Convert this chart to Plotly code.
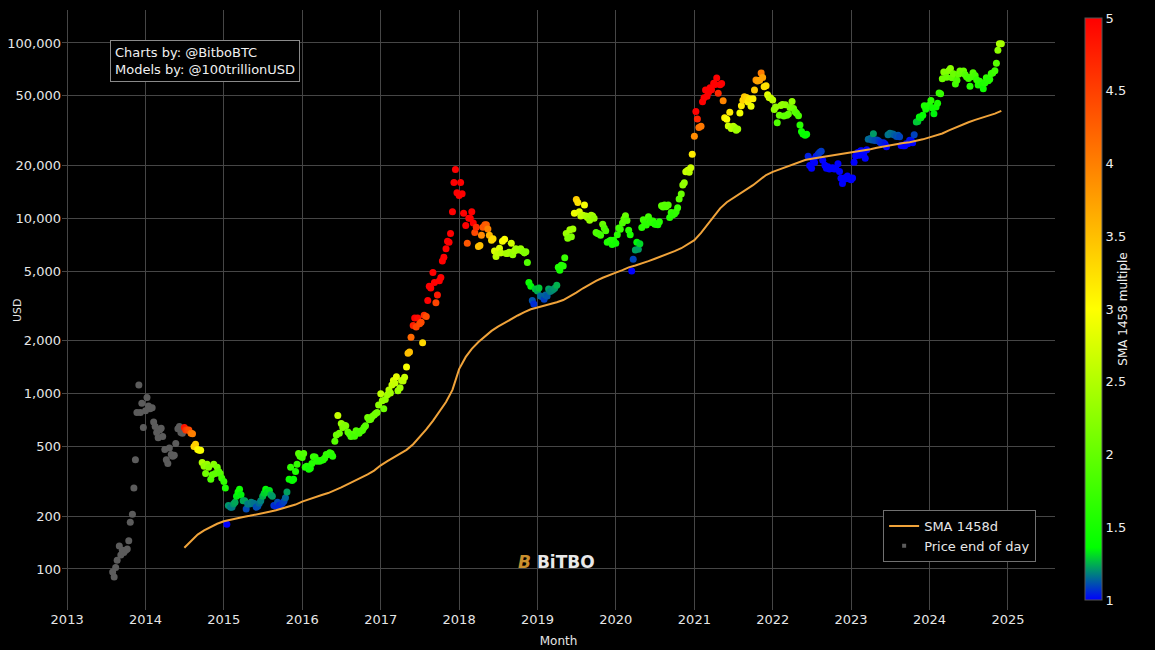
import numpy as np
import pandas as pd
import plotly.graph_objects as go

# ---------------- DATA ----------------
# Price end of day (USD), sampled on the 1st, 8th, 15th and 22nd of each month
p2013 = [96, 90, 102, 112, 135, 120, 128, 124, 128, 130, 145, 185,
         205, 290, 420, 780, 1120, 780, 880, 640]  # Aug-Dec
p2014 = [800, 950, 850, 820, 830, 690, 650, 600, 560, 620, 635, 570,
         480, 420, 400, 490, 450, 440, 445, 520, 630, 650, 600, 595,
         640, 620, 620, 620, 595, 590, 500, 515, 480, 475, 475, 405,
         385, 350, 395, 380, 325, 345, 395, 350, 380, 360, 350, 330]
p2015 = [315, 290, 180, 230, 225, 225, 235, 240, 260, 275, 285, 265,
         245, 245, 220, 235, 235, 240, 238, 236, 225, 228, 237, 245,
         260, 270, 285, 275, 280, 265, 260, 230, 228, 240, 230, 232,
         238, 243, 255, 275, 325, 380, 320, 325, 360, 395, 455, 440]
p2016 = [432, 455, 380, 385, 370, 375, 400, 437, 435, 412, 415, 412,
         417, 420, 430, 450, 450, 460, 455, 440, 535, 580, 750, 595,
         675, 640, 660, 655, 605, 590, 570, 585, 572, 615, 607, 595,
         613, 618, 640, 655, 730, 710, 715, 740, 755, 770, 780, 860]
p2017 = [1000, 910, 820, 925, 985, 1050, 1010, 1120, 1190, 1150, 1250, 1040,
         1080, 1190, 1180, 1240, 1420, 1700, 1730, 2100, 2450, 2700, 2400, 2700,
         2500, 2550, 1950, 2800, 2750, 3400, 4100, 4000, 4900, 4300, 3300, 3650,
         4400, 4600, 5700, 6000, 6700, 7400, 7300, 8200, 10900, 16000, 19000, 14000]
p2018 = [13500, 16000, 13800, 10700, 9100, 7200, 10000, 10000, 10900, 9400, 8300, 8900,
         6900, 7000, 8000, 8900, 9200, 9200, 8700, 8000, 7500, 7650, 6500, 6050,
         6350, 6750, 6350, 7400, 7600, 6300, 6300, 6400, 7200, 6200, 6500, 6700,
         6600, 6650, 6700, 6500, 6350, 6450, 5600, 4300, 4100, 3400, 3250, 3950]
p2019 = [3850, 4000, 3600, 3580, 3450, 3650, 3600, 3950, 3830, 3880, 3930, 3990,
         4150, 5250, 5050, 5400, 5350, 5950, 8200, 7700, 8600, 7850, 8700, 10700,
         12800, 12300, 10900, 10300, 10400, 11900, 10300, 10100, 9750, 10400, 10300, 10000,
         8300, 8200, 8150, 8000, 9250, 8800, 8500, 7300, 7400, 7500, 7100, 7500]
p2020 = [7200, 8050, 8800, 8650, 9400, 9900, 10350, 9700, 8550, 8050, 5000, 5850,
         6600, 7300, 6650, 7150, 8850, 9800, 9350, 9150, 10200, 9750, 9450, 9650,
         9250, 9250, 9200, 9550, 11800, 11600, 11900, 11650, 11900, 10100, 10800, 10450,
         10600, 10900, 11500, 12900, 13750, 15500, 15950, 18400, 18800, 18300, 19400, 23200]
p2021 = [29400, 40600, 36800, 33000, 33500, 46200, 48700, 54000, 49600, 52400, 55600, 54100,
         59000, 58000, 63200, 51700, 57800, 58800, 46800, 37500, 36700, 33600, 40200, 32500,
         33500, 32900, 31800, 32300, 39900, 43800, 47100, 49300, 48800, 46100, 48100, 43600,
         48100, 53900, 61500, 60700, 61300, 67500, 63600, 56300, 57000, 50600, 48900, 48600]
p2022 = [47300, 41800, 43100, 35100, 38700, 44000, 44500, 38300, 44400, 38700, 39300, 42900,
         46300, 42300, 40500, 39700, 38500, 34100, 31300, 30300, 29800, 30200, 22600, 20000,
         19300, 21600, 20800, 22600, 23300, 23800, 24100, 21400, 20100, 19300, 19700, 19100,
         19300, 19400, 19100, 19200, 20500, 18500, 16900, 15800, 17000, 16800, 17400, 16800]
p2023 = [16600, 17000, 20900, 22700, 23700, 22900, 24300, 24200, 23600, 22000, 24600, 28200,
         28500, 28000, 30400, 27800, 28000, 27700, 27200, 26800, 27000, 26500, 25600, 30000,
         30600, 30300, 30300, 29900, 29300, 29800, 29200, 26000, 25900, 25900, 26600, 26600,
         27900, 27900, 27000, 30000, 35400, 35600, 37800, 37400, 38700, 43800, 41900, 43700]
p2024 = [44200, 47000, 42500, 39500, 43100, 45300, 51900, 51300, 62400, 68300, 67900, 63800,
         69700, 71600, 63400, 66800, 58300, 61200, 66200, 69200, 67500, 69300, 66100, 64200,
         62700, 56700, 64100, 67600, 65300, 61700, 57500, 60400, 57300, 54800, 59200, 63300,
         60800, 62100, 67000, 67400, 69500, 76600, 91000, 98900, 99000]

# SMA 1458d, monthly (1st of month) from 2014-07
sma2014 = [132, 145, 157, 166, 174, 181]
sma2015 = [187, 191, 195, 198, 201, 204, 208, 212, 216, 221, 226, 233]
sma2016 = [242, 250, 257, 264, 271, 280, 292, 305, 318, 332, 346, 364]
sma2017 = [390, 412, 432, 452, 478, 515, 565, 625, 700, 785, 895, 1050]
sma2018 = [1380, 1620, 1800, 1970, 2120, 2280, 2410, 2540, 2670, 2790, 2920, 3030]
sma2019 = [3100, 3170, 3240, 3320, 3420, 3580, 3770, 3990, 4200, 4400, 4580, 4750]
sma2020 = [4900, 5060, 5250, 5380, 5520, 5700, 5880, 6070, 6300, 6500, 6750, 7080]
sma2021 = [7500, 8250, 9100, 10250, 11400, 12350, 13050, 13700, 14600, 15450, 16550, 17650]
sma2022 = [18400, 19000, 19600, 20300, 21000, 21500, 21850, 22150, 22500, 22750, 23050, 23300]
sma2023 = [23600, 23950, 24300, 24750, 25250, 25700, 26050, 26450, 26850, 27150, 27600, 28200]
sma2024 = [28950, 29650, 30450, 31750, 32950, 34100, 35300, 36400, 37400, 38450, 39550, 41000]

y_tickvals = [100, 200, 500, 1000, 2000, 5000, 10000, 20000, 50000, 100000]
y_ticktext = ["100", "200", "500", "1,000", "2,000", "5,000", "10,000", "20,000", "50,000", "100,000"]
cb_tickvals = [1, 1.5, 2, 2.5, 3, 3.5, 4, 4.5, 5]
cb_ticktext = ["1", "1.5", "2", "2.5", "3", "3.5", "4", "4.5", "5"]

# ---------------- BUILD ----------------
price = p2013 + p2014 + p2015 + p2016 + p2017 + p2018 + p2019 + p2020 + p2021 + p2022 + p2023 + p2024
dates = []
yy, mm = 2013, 8
while len(dates) < len(price):
    for d in (1, 8, 15, 22):
        dates.append(pd.Timestamp(yy, mm, d))
    mm += 1
    if mm > 12:
        mm, yy = 1, yy + 1
dates = pd.DatetimeIndex(dates[:len(price)])
price = np.array(price, dtype=float)

sma = np.array(sma2014 + sma2015 + sma2016 + sma2017 + sma2018 + sma2019 +
               sma2020 + sma2021 + sma2022 + sma2023 + sma2024, dtype=float)
sma_dates = pd.date_range("2014-07-01", periods=len(sma), freq="MS")

t_p = dates.asi8.astype(float)
t_s = sma_dates.asi8.astype(float)
has_sma = t_p >= t_s[0]
multiple = price[has_sma] / np.exp(np.interp(t_p[has_sma], t_s, np.log(sma)))

colorscale = [[0.0, "rgb(0,0,255)"], [0.09, "rgb(0,255,0)"],
              [0.5, "rgb(255,255,0)"], [1.0, "rgb(255,0,0)"]]

fig = go.Figure()

# gray price (before SMA available)
fig.add_trace(go.Scatter(
    x=dates[~has_sma], y=price[~has_sma], mode="markers",
    marker=dict(color="#5c5c5c", size=7), showlegend=False))

# colored price
fig.add_trace(go.Scatter(
    x=dates[has_sma], y=price[has_sma], mode="markers",
    marker=dict(color=multiple, colorscale=colorscale, cmin=1, cmax=5, size=7,
                showscale=True,
                colorbar=dict(
                    thickness=17, thicknessmode="pixels",
                    len=582, lenmode="pixels",
                    x=1.030, xanchor="left", y=0.0167, yanchor="bottom",
                    xpad=0, ypad=0,
                    tickvals=cb_tickvals, ticktext=cb_ticktext, ticks="",
                    tickfont=dict(color="#eeeeee", size=13),
                    outlinewidth=1, outlinecolor="#555555",
                    title=dict(text="SMA 1458 multiple", side="right",
                               font=dict(color="#eeeeee", size=12)))),
    showlegend=False))

# SMA line
fig.add_trace(go.Scatter(
    x=sma_dates, y=sma, mode="lines", name="SMA 1458d",
    line=dict(color="#f0a33a", width=2), legendrank=1))

# legend entry for price
fig.add_trace(go.Scatter(
    x=[None], y=[None], mode="markers", name="Price end of day",
    marker=dict(color="#5c5c5c", size=4, symbol="square"), legendrank=2))

fig.update_layout(
    width=1155, height=650,
    paper_bgcolor="black", plot_bgcolor="black",
    margin=dict(l=62, r=100, t=10, b=40, autoexpand=False),
    font=dict(family="DejaVu Sans", color="#e6e6e6", size=13),
    xaxis=dict(
        type="date", range=["2012-12-08", "2025-08-08"],
        dtick="M12", tick0="2013-01-01", tickformat="%Y",
        showgrid=True, gridcolor="#464646", gridwidth=1,
        zeroline=False, showline=False, ticks="",
        tickfont=dict(size=13, color="#e6e6e6"),
        title=dict(text="Month", font=dict(size=12, color="#e6e6e6"), standoff=10)),
    yaxis=dict(
        type="log", range=[1.766, 5.188],
        tickvals=y_tickvals, ticktext=y_ticktext,
        showgrid=True, gridcolor="#464646", gridwidth=1,
        zeroline=False, showline=False, ticks="",
        tickfont=dict(size=13, color="#e6e6e6")),
    legend=dict(
        x=0.981, xanchor="right", y=0.08, yanchor="bottom",
        bgcolor="black", bordercolor="#707070", borderwidth=1,
        font=dict(size=13, color="#e6e6e6")),
    showlegend=True,
)

fig.add_annotation(
    x=0.0483, y=0.95, xref="paper", yref="paper", xanchor="left", yanchor="top",
    text="Charts by: @BitboBTC<br>Models by: @100trillionUSD",
    align="left", showarrow=False, bgcolor="black",
    bordercolor="#8a8a8a", borderwidth=1, borderpad=4,
    font=dict(size=13, color="#f0f0f0"))

fig.add_annotation(
    x=-0.0453, y=0.5, xref="paper", yref="paper", xanchor="center", yanchor="middle",
    text="USD", textangle=-90,
    showarrow=False, font=dict(size=11, color="#e6e6e6"))

fig.add_annotation(
    x=0.4975, y=0.08, xref="paper", yref="paper", xanchor="center", yanchor="middle",
    text="<b><i><span style='color:#c98f2e'>B</span></i> BiTBO</b>",
    showarrow=False, font=dict(size=17, color="#e8e8e8"))

fig.write_html("out.html", config={"displayModeBar": False},
               post_script="document.body.style.margin='0';document.body.style.background='black';")
